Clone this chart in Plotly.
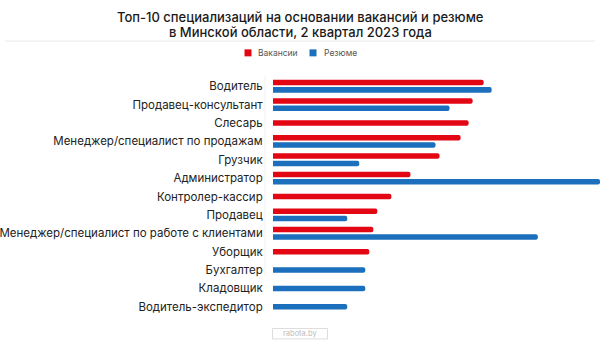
import plotly.graph_objects as go

categories = [
    "Водитель", "Продавец-консультант", "Слесарь", "Менеджер/специалист по продажам",
    "Грузчик", "Администратор", "Контролер-кассир", "Продавец",
    "Менеджер/специалист по работе с клиентами", "Уборщик", "Бухгалтер",
    "Кладовщик", "Водитель-экспедитор",
]
vacancies = [210, 199, 195, 187, 166, 137, 118, 104, 100, 96, None, None, None]
resumes = [218, 176, None, 162, 86, 326, None, 74, 264, None, 92, 92, 74]

title_lines = [
    "Топ-10 специализаций на основании вакансий и резюме",
    "в Минской области, 2 квартал 2023 года",
]

RED = "#e30613"
BLUE = "#1c6fbc"

W, H = 600, 350
ML, MR, MT, MB = 273, 0, 77, 33.5
PW, PH = W - ML - MR, H - MT - MB

def px_x(x):
    return (x - ML) / PW

def px_y(y):
    return 1 - (y - MT) / PH

BW = 0.3
GAP = 0.2

def build(values, other, sign):
    ys, xs, offs = [], [], []
    for c, v, o in zip(categories, values, other):
        if v is None:
            continue
        ys.append(c)
        xs.append(v)
        if o is None:
            offs.append(-BW / 2)
        else:
            offs.append(sign * GAP - BW / 2)
    return ys, xs, offs

fig = go.Figure()
for name, vals, oth, sign, col in [
    ("Вакансии", vacancies, resumes, -1, RED),
    ("Резюме", resumes, vacancies, 1, BLUE),
]:
    ys, xs, offs = build(vals, oth, sign)
    fig.add_trace(go.Bar(
        y=ys, x=xs, orientation="h", name=name,
        offset=offs, width=[BW] * len(xs),
        marker=dict(color=col, cornerradius=3, line=dict(width=0)),
        showlegend=False, hoverinfo="x+y",
    ))

shapes = [
    dict(type="line", xref="paper", yref="paper",
         x0=px_x(5), x1=px_x(595), y0=px_y(41), y1=px_y(41),
         line=dict(color="#e8e8e8", width=1)),
    dict(type="line", xref="paper", yref="paper",
         x0=px_x(265), x1=px_x(265), y0=px_y(76), y1=px_y(276),
         line=dict(color="#f0f0f0", width=1)),
    dict(type="rect", xref="paper", yref="paper",
         x0=px_x(244.5), x1=px_x(251.5), y0=px_y(49.3), y1=px_y(56.3),
         fillcolor=RED, line=dict(width=0)),
    dict(type="rect", xref="paper", yref="paper",
         x0=px_x(309.5), x1=px_x(316.5), y0=px_y(49.3), y1=px_y(56.3),
         fillcolor=BLUE, line=dict(width=0)),
    dict(type="rect", xref="paper", yref="paper",
         x0=px_x(272.5), x1=px_x(327.5), y0=px_y(329), y1=px_y(339.5),
         line=dict(color="#dddddd", width=1), fillcolor="white",
         layer="above"),
]

annotations = [
    dict(text=title_lines[0], xref="paper", yref="paper", x=px_x(300), y=px_y(16.5),
         xanchor="center", yanchor="middle", showarrow=False,
         font=dict(size=13, color="#1a1a1a", family="Inter", weight=500)),
    dict(text=title_lines[1], xref="paper", yref="paper", x=px_x(300), y=px_y(31.5),
         xanchor="center", yanchor="middle", showarrow=False,
         font=dict(size=13, color="#1a1a1a", family="Inter", weight=500)),
    dict(text="Вакансии", xref="paper", yref="paper", x=px_x(256), y=px_y(53),
         xanchor="left", yanchor="middle", showarrow=False,
         font=dict(size=8.5, color="#555555", family="Inter")),
    dict(text="Резюме", xref="paper", yref="paper", x=px_x(322), y=px_y(53),
         xanchor="left", yanchor="middle", showarrow=False,
         font=dict(size=8.5, color="#555555", family="Inter")),
    dict(text="rabota.by", xref="paper", yref="paper", x=px_x(300), y=px_y(334.3),
         xanchor="center", yanchor="middle", showarrow=False,
         font=dict(size=7.5, color="#bbbbbb", family="Inter")),
]

fig.update_layout(
    width=W, height=H,
    margin=dict(l=ML, r=MR, t=MT, b=MB, pad=0),
    paper_bgcolor="white", plot_bgcolor="white",
    barmode="overlay",
    xaxis=dict(range=[0, 326], visible=False, fixedrange=True),
    yaxis=dict(
        type="category", categoryorder="array", categoryarray=categories,
        range=[len(categories) - 0.5, -0.5],
        showgrid=False, zeroline=False, showline=False,
        ticks="outside", ticklen=7, tickcolor="rgba(0,0,0,0)",
        tickfont=dict(family="Inter", size=11.5, color="#222222"),
        fixedrange=True,
    ),
    shapes=shapes,
    annotations=annotations,
    font=dict(family="Inter"),
)

fig.write_html("out.html")
